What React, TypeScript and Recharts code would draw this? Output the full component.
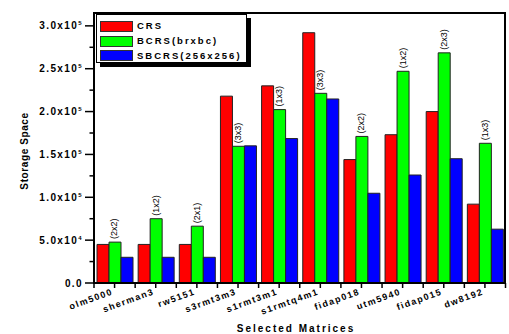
import { BarChart, Bar, XAxis, YAxis, LabelList, Label } from 'recharts'

const categories = ['olm5000', 'sherman3', 'rw5151', 's3rmt3m3', 's1rmt3m1', 's1rmtq4m1', 'fidap018', 'utm5940', 'fidap015', 'dw8192']
const crs = [45000, 45000, 45000, 218000, 230000, 292000, 144000, 173000, 200000, 92000]
const bcrs = [47700, 75000, 66300, 159500, 202300, 221300, 171000, 247000, 268500, 163000]
const sbcrs = [30000, 30000, 30000, 160000, 168500, 214700, 104700, 126000, 145000, 62800]
const blockSizes = ['(2x2)', '(1x2)', '(2x1)', '(3x3)', '(1x3)', '(3x3)', '(2x2)', '(1x2)', '(2x3)', '(1x3)']
const yTicks = [0, 25000, 50000, 75000, 100000, 125000, 150000, 175000, 200000, 225000, 250000, 275000, 300000]

const series = [
  { key: 'crs', name: 'CRS', color: '#ff0000' },
  { key: 'bcrs', name: 'BCRS(brxbc)', color: '#00ff00' },
  { key: 'sbcrs', name: 'SBCRS(256x256)', color: '#0000ff' },
]

const data = categories.map((name, i) => ({
  name,
  crs: crs[i],
  bcrs: bcrs[i],
  sbcrs: sbcrs[i],
  block: blockSizes[i],
}))

const FONT = 'Arial, "Liberation Sans", sans-serif'
const PLOT_LEFT = 94
const PLOT_BOTTOM = 283

function YTick(props: any) {
  const { y, payload } = props
  const v = payload.value as number
  const major = v % 50000 === 0
  let mant = '0.0'
  let exp = ''
  if (v >= 100000) {
    mant = (v / 100000).toFixed(1)
    exp = '5'
  } else if (v > 0) {
    mant = (v / 10000).toFixed(1)
    exp = '4'
  }
  return (
    <g>
      <line x1={major ? 85 : 89.5} x2={PLOT_LEFT} y1={y} y2={y} stroke="#000" strokeWidth={1.5} />
      {major && (
        <text x={83} y={y + 3.5} textAnchor="end" fontFamily={FONT} fontWeight="bold" fontSize={10} letterSpacing={1.4} fill="#000">
          {mant}
          {exp && 'x10'}
          {exp && (
            <tspan dy={-4} fontSize={6}>
              {exp}
            </tspan>
          )}
        </text>
      )}
    </g>
  )
}

function XTick(props: any) {
  const { x, index, visibleTicksCount } = props
  const half = 411.5 / 20
  return (
    <g>
      <line x1={x} x2={x} y1={PLOT_BOTTOM} y2={PLOT_BOTTOM + 5} stroke="#000" strokeWidth={1.5} />
      <line x1={x - half} x2={x - half} y1={PLOT_BOTTOM} y2={PLOT_BOTTOM + 5} stroke="#000" strokeWidth={1.5} />
      {index === visibleTicksCount - 1 && (
        <line x1={x + half} x2={x + half} y1={PLOT_BOTTOM} y2={PLOT_BOTTOM + 5} stroke="#000" strokeWidth={1.5} />
      )}
      <text
        x={x - 1}
        y={294}
        transform={`rotate(-20, ${x - 1}, 294)`}
        textAnchor="end"
        fontFamily={FONT}
        fontWeight="bold"
        fontSize={9}
        letterSpacing={1.4}
        fill="#000"
      >
        {props.payload.value}
      </text>
    </g>
  )
}

function BlockLabel(props: any) {
  const { x, y, width, value } = props
  const cx = x + width / 2 + 2.5
  const cy = y - 3
  return (
    <text x={cx} y={cy} transform={`rotate(-90, ${cx}, ${cy})`} textAnchor="start" fontFamily={FONT} fontSize={9} fill="#000">
      {value}
    </text>
  )
}

function LegendBox() {
  return (
    <div
      style={{
        position: 'absolute',
        left: 96,
        top: 14,
        background: '#fff',
        border: '1px solid #000',
        boxShadow: '4px 4px 0 #000',
        width: 151,
        height: 49,
        boxSizing: 'border-box',
        paddingTop: 4,
        paddingLeft: 3,
      }}
    >
      {series.map((s) => (
        <div key={s.key} style={{ display: 'flex', alignItems: 'center', height: 14.7 }}>
          <div style={{ width: 31, height: 9, background: s.color, border: '1px solid #333' }} />
          <span
            style={{
              marginLeft: 4,
              fontFamily: FONT,
              fontWeight: 'bold',
              fontSize: 9.5,
              letterSpacing: 2,
              color: '#000',
              lineHeight: '10px',
              whiteSpace: 'nowrap',
            }}
          >
            {s.name}
          </span>
        </div>
      ))}
    </div>
  )
}

function YTitle() {
  return (
    <text x={28} y={151} transform="rotate(-90, 28, 151)" textAnchor="middle" fontFamily={FONT} fontWeight="bold" fontSize={10} letterSpacing={0.6} fill="#000">
      Storage Space
    </text>
  )
}

function XTitle() {
  return (
    <text x={296} y={332} textAnchor="middle" fontFamily={FONT} fontWeight="bold" fontSize={10} letterSpacing={2} fill="#000">
      Selected Matrices
    </text>
  )
}

export default function App() {
  return (
    <div style={{ position: 'absolute', left: 0, top: 0, width: 509, height: 334, background: '#fff' }}>
      <BarChart
        width={509}
        height={334}
        data={data}
        margin={{ top: 13, right: 3.5, left: 0, bottom: 0 }}
        barCategoryGap={3}
        barGap={0}
      >
        <XAxis dataKey="name" height={51} interval={0} tickLine={false} axisLine={false} tick={<XTick />}>
          <Label content={<XTitle />} />
        </XAxis>
        <YAxis width={94} domain={[0, 315000]} ticks={yTicks} interval={0} tickLine={false} axisLine={false} tick={<YTick />}>
          <Label content={<YTitle />} />
        </YAxis>
        {series.map((s) => (
          <Bar key={s.key} dataKey={s.key} name={s.name} fill={s.color} stroke="#222" strokeWidth={1} isAnimationActive={false}>
            {s.key === 'bcrs' && <LabelList dataKey="block" content={<BlockLabel />} />}
          </Bar>
        ))}
      </BarChart>
      {/* plot frame */}
      <div
        style={{
          position: 'absolute',
          left: 93,
          top: 12,
          width: 413,
          height: 272,
          border: '2px solid #000',
          boxSizing: 'border-box',
          pointerEvents: 'none',
        }}
      />
      <LegendBox />
    </div>
  )
}
